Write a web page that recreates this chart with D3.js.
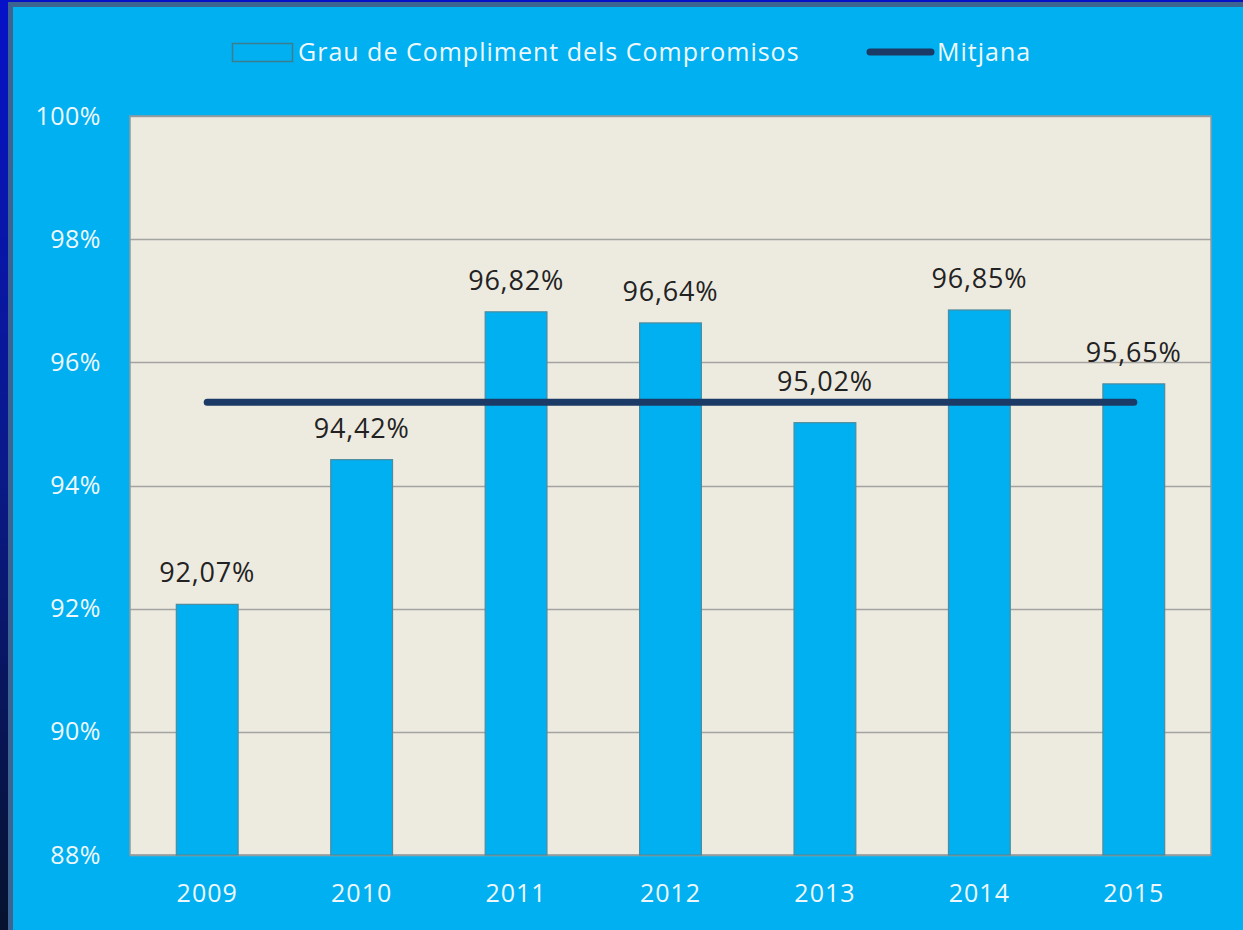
<!DOCTYPE html>
<html>
<head>
<meta charset="utf-8">
<script src="https://cdn.jsdelivr.net/npm/d3@7"></script>
<style>
  html, body { margin: 0; padding: 0; }
  body { width: 1243px; height: 930px; overflow: hidden;
         background: linear-gradient(to bottom, #0612c8 0%, #0a1a8a 50%, #06122e 100%); }
  svg { display: block; font-family: "Open Sans", "Noto Sans", sans-serif; }
</style>
</head>
<body>
<div id="chart"></div>
<script>
// data
const years = ["2009", "2010", "2011", "2012", "2013", "2014", "2015"];
const compliance = [92.07, 94.42, 96.82, 96.64, 95.02, 96.85, 95.65];
const meanValue = 95.35;
const yTicks = [88, 90, 92, 94, 96, 98, 100];
const barLabel = "Grau de Compliment dels Compromisos";
const lineLabel = "Mitjana";

const W = 1243, H = 930;
const plot = { left: 130, top: 116, right: 1211, bottom: 855 };
const lightText = "#eef8fc";

const svg = d3.select("#chart").append("svg")
    .attr("width", W)
    .attr("height", H);

// frame
svg.append("rect")
    .attr("x", 10.5).attr("y", 4.5)
    .attr("width", W).attr("height", H)
    .attr("fill", "#00b0f0")
    .attr("stroke", "#3d6490")
    .attr("stroke-width", 5);

// =========================
// SCALES
// =========================
const x = d3.scaleBand()
    .domain(years)
    .range([plot.left, plot.right])
    .paddingInner(0.6)
    .paddingOuter(0.3);

const y = d3.scaleLinear()
    .domain([88, 100])
    .range([plot.bottom, plot.top]);

// plot background
svg.append("rect")
    .attr("x", plot.left).attr("y", plot.top)
    .attr("width", plot.right - plot.left)
    .attr("height", plot.bottom - plot.top)
    .attr("fill", "#edeae0");

// gridlines
svg.append("g")
    .selectAll("line")
    .data(yTicks)
    .join("line")
    .attr("x1", plot.left).attr("x2", plot.right)
    .attr("y1", d => Math.round(y(d)) + 0.5)
    .attr("y2", d => Math.round(y(d)) + 0.5)
    .attr("stroke", "#a3a3a0")
    .attr("stroke-width", 1.5);

// plot border
svg.append("rect")
    .attr("x", plot.left).attr("y", plot.top)
    .attr("width", plot.right - plot.left)
    .attr("height", plot.bottom - plot.top)
    .attr("fill", "none")
    .attr("stroke", "#8f9a9e")
    .attr("stroke-width", 1.5);

// =========================
// AXES
// =========================
const yAxis = svg.append("g")
    .attr("transform", `translate(${plot.left},0)`)
    .call(d3.axisLeft(y).tickValues(yTicks).tickSize(0).tickPadding(29).tickFormat(d => d + "%"))
    .attr("font-family", null)
    .attr("font-size", null);
yAxis.select(".domain").remove();
yAxis.selectAll("text")
    .attr("fill", lightText)
    .style("font-size", "25px")
    .style("letter-spacing", "0.5px");

const xAxis = svg.append("g")
    .attr("transform", `translate(0,${plot.bottom})`)
    .call(d3.axisBottom(x).tickSize(0).tickPadding(29))
    .attr("font-family", null)
    .attr("font-size", null);
xAxis.select(".domain").remove();
xAxis.selectAll("text")
    .attr("fill", lightText)
    .style("font-size", "25px")
    .style("letter-spacing", "1px");

// =========================
// BARS
// =========================
svg.append("g")
    .selectAll("rect")
    .data(years)
    .join("rect")
    .attr("x", (d) => x(d))
    .attr("y", (d, i) => y(compliance[i]))
    .attr("width", x.bandwidth())
    .attr("height", (d, i) => y(88) - y(compliance[i]))
    .attr("fill", "#00b0f0")
    .attr("stroke", "#4f8b9c")
    .attr("stroke-width", 1.2);

// value labels (lifted above the mean line when they would touch it)
const meanY = y(meanValue);
const labelY = v => {
    const base = y(v) - 22;
    const top = base - 20;
    if (base > meanY - 10 && top < meanY + 6) return meanY - 11;
    return base;
};

svg.append("g")
    .selectAll("text")
    .data(years)
    .join("text")
    .attr("x", d => x(d) + x.bandwidth() / 2)
    .attr("y", (d, i) => labelY(compliance[i]))
    .attr("text-anchor", "middle")
    .attr("fill", "#222")
    .style("font-size", "27px")
    .style("letter-spacing", "0.8px")
    .text((d, i) => compliance[i].toFixed(2).replace(".", ",") + "%");

// mean line
svg.append("line")
    .attr("x1", x(years[0]) + x.bandwidth() / 2)
    .attr("x2", x(years[years.length - 1]) + x.bandwidth() / 2)
    .attr("y1", meanY).attr("y2", meanY)
    .attr("stroke", "#1b3a66")
    .attr("stroke-width", 7)
    .attr("stroke-linecap", "round");

// =========================
// LEGEND
// =========================
const legend = svg.append("g");
legend.append("rect")
    .attr("x", 232.5).attr("y", 43.5)
    .attr("width", 60).attr("height", 18)
    .attr("fill", "#00b0f0")
    .attr("stroke", "#3c7d8e")
    .attr("stroke-width", 1.5);
legend.append("text")
    .attr("x", 298).attr("y", 61)
    .attr("fill", lightText)
    .style("font-size", "25px")
    .style("letter-spacing", "1px")
    .text(barLabel);
legend.append("line")
    .attr("x1", 870).attr("x2", 931)
    .attr("y1", 52).attr("y2", 52)
    .attr("stroke", "#1b3a66")
    .attr("stroke-width", 7)
    .attr("stroke-linecap", "round");
legend.append("text")
    .attr("x", 937).attr("y", 61)
    .attr("fill", lightText)
    .style("font-size", "25px")
    .style("letter-spacing", "1px")
    .text(lineLabel);
</script>
</body>
</html>
